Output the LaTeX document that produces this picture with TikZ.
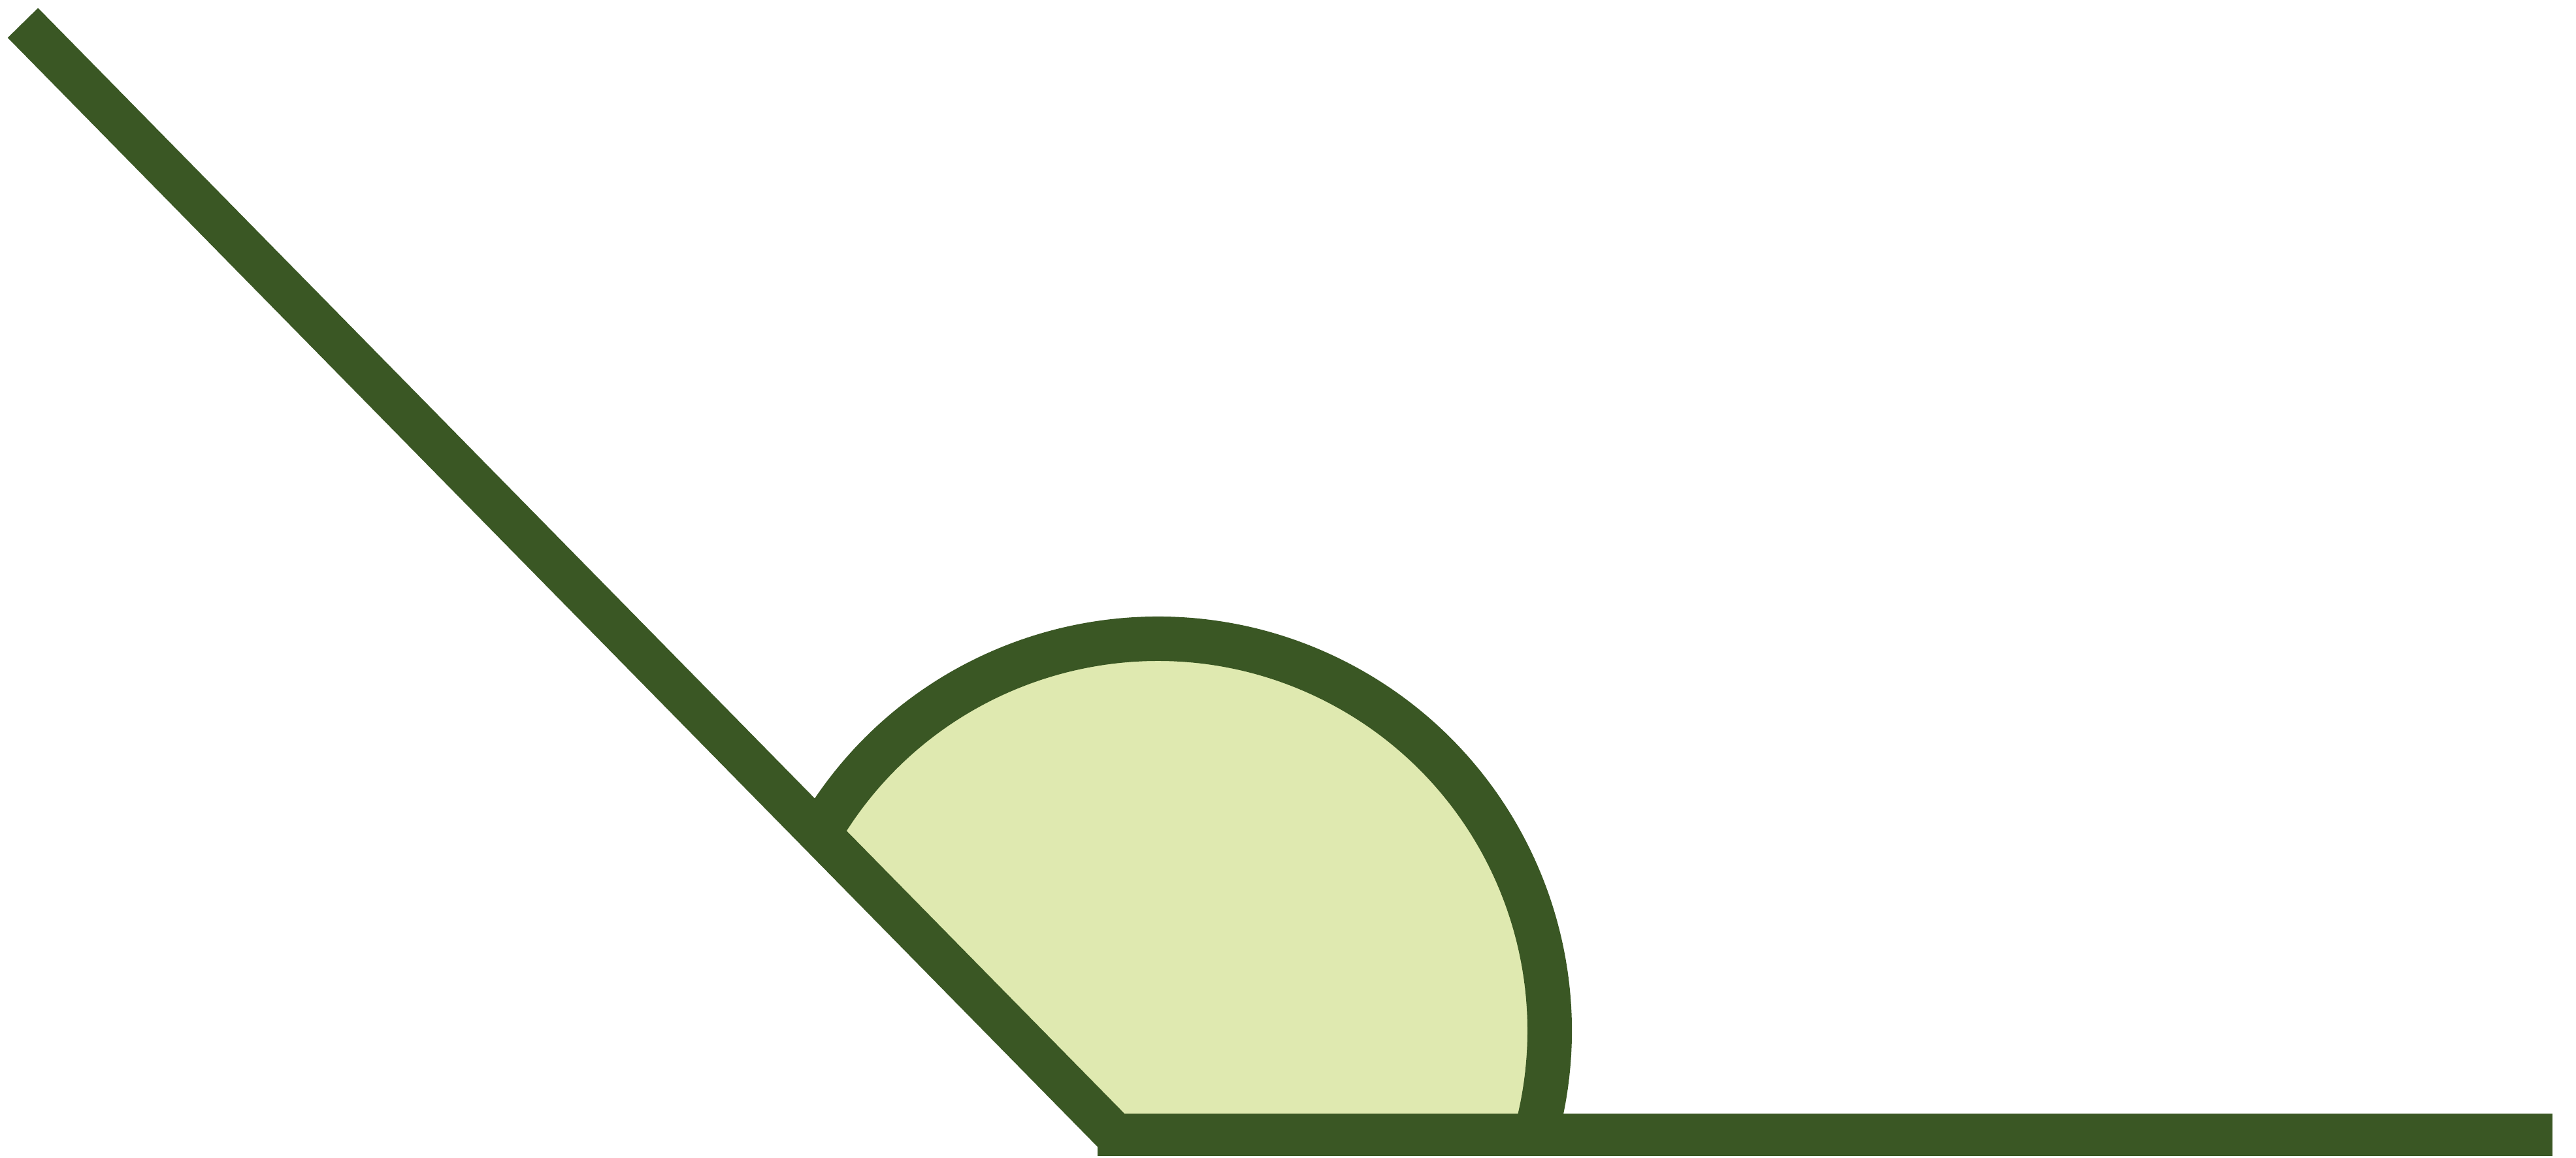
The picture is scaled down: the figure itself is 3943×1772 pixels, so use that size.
\documentclass[tikz,border=0pt]{standalone}
\usetikzlibrary{calc}
\definecolor{darkgreen}{RGB}{58,87,36}
\definecolor{lightgreen}{RGB}{223,233,176}
\tikzset{
  rayline/.style={draw=darkgreen, line width=0.65cm, line cap=butt},
  arcline/.style={draw=darkgreen, line width=0.68cm, line cap=butt},
  sectorfill/.style={fill=lightgreen}
}
\begin{document}
\begin{tikzpicture}[x=0.01cm, y=-0.01cm]
\useasboundingbox (0,0) rectangle (3943,1772);
\coordinate (A) at (35,35);
\coordinate (V) at (1707,1737);
\coordinate (L) at (1680,1737);
\coordinate (E) at (3907,1737);
\coordinate (C) at (1772,1578);
\coordinate (P) at ($(C)+(-149.8:600)$);
% sector fill
\fill[sectorfill] (V) -- (P) arc[start angle=-149.8, end angle=15.4, radius=600] -- cycle;
% arc outline
\draw[arcline] (P) arc[start angle=-149.8, end angle=15.4, radius=600];
% rays
\draw[rayline] (A) -- (V);
\draw[rayline] (L) -- (E);
\end{tikzpicture}
\end{document}
